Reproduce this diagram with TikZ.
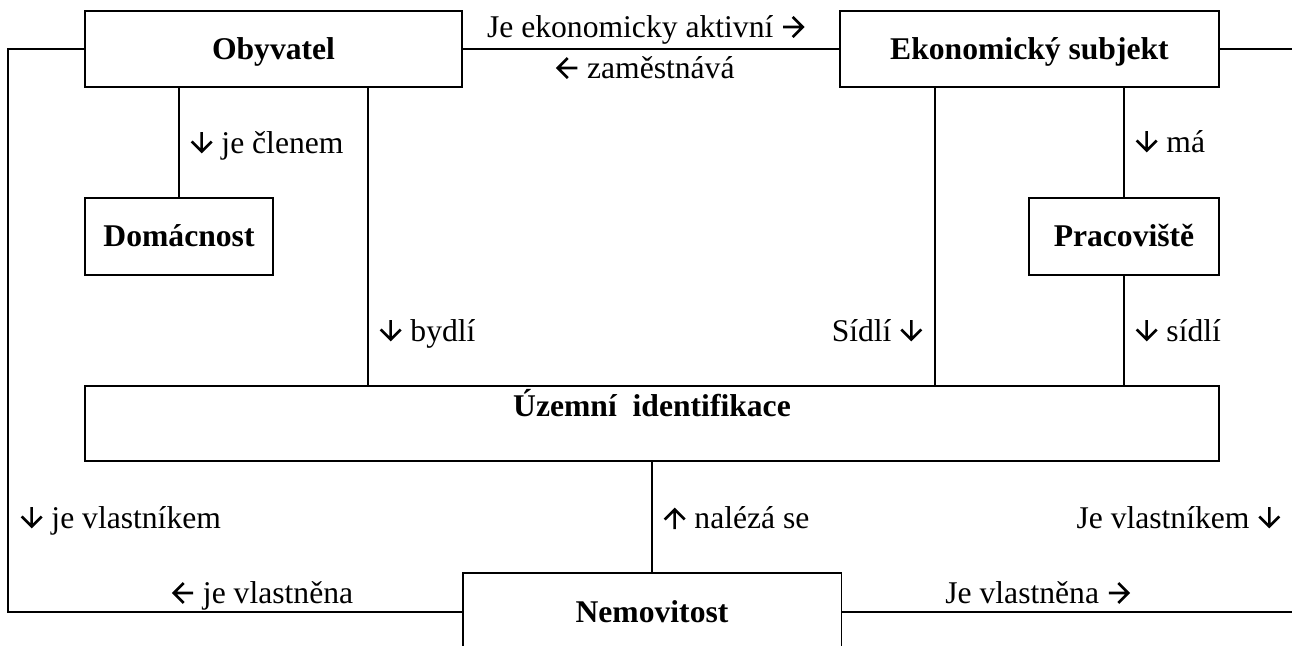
\documentclass[tikz,border=0pt]{standalone}
\usepackage{fontspec}
\setmainfont{Liberation Serif}
\newcommand{\sipka}[1]{\tikz[baseline=0pt,x=1cm,y=1cm,line width=1.5pt]
  \draw[rotate around={#1:(0,0.2)}] (0,0.42) -- (0,0.03)
    (-0.2,0.23) -- (0,0.03) -- (0.2,0.23);}
\newcommand{\dolu}{\sipka{0}\hspace{0.17cm}}
\newcommand{\nahoru}{\sipka{180}\hspace{0.17cm}}
\newcommand{\vlevo}{\sipka{-90}\hspace{0.17cm}}
\newcommand{\vpravo}{\hspace{0.17cm}\sipka{90}}
\newcommand{\dolukonec}{\hspace{0.17cm}\sipka{0}}

\begin{document}
\begin{tikzpicture}[
  x=0.02cm, y=-0.02cm,
  font=\fontsize{18}{22}\selectfont,
  link/.style={line width=1.1pt},
  box/.style={draw,line width=1.1pt,inner sep=0pt,
    text height=0.5cm,text depth=0.1cm,font=\fontsize{18}{22}\selectfont\bfseries},
  rel/.style={inner sep=0pt}
]
  \useasboundingbox (0,0) rectangle (1292,646);
  \clip (0,0) rectangle (1292,646);

  \node[box,minimum width=7.54cm,minimum height=1.52cm] (obyv) at (273.5,49) {Obyvatel};
  \node[box,minimum width=7.58cm,minimum height=1.52cm] (ekon) at (1029.5,49) {Ekonomický subjekt};
  \node[box,minimum width=3.76cm,minimum height=1.54cm] (dom) at (179,236.5) {Domácnost};
  \node[box,minimum width=3.8cm,minimum height=1.54cm] (prac) at (1124,236.5) {Pracoviště};
  \node[box,minimum width=22.68cm,minimum height=1.5cm,text depth=0.8cm] (uzemi)
    at (652,423.5) {Územní\ \ identifikace};
  \node[box,minimum width=7.58cm,minimum height=1.56cm] (nem) at (652,612) {Nemovitost};

  \coordinate (bydliste) at (368,0);
  \coordinate (sidlo) at (935,0);
  \coordinate (roh) at (8,612);
  \coordinate (okraj) at (1292,0);

  \draw[link] (obyv) -- (ekon);
  \draw[link] (dom.north) -- (dom.north |- obyv.south);
  \draw[link] (obyv.south -| bydliste) -- (uzemi.north -| bydliste);
  \draw[link] (ekon.south -| sidlo) -- (uzemi.north -| sidlo);
  \draw[link] (prac.north) -- (prac.north |- ekon.south);
  \draw[link] (prac.south) -- (prac.south |- uzemi.north);
  \draw[link] (nem.north) -- (nem.north |- uzemi.south);
  \draw[link] (obyv.west) -| (roh) -- (nem.west);
  \draw[link] (ekon.east) -- (ekon.east -| okraj);
  \draw[link] (nem.east) -- (nem.east -| okraj);

  \node[rel,anchor=base] (aktivni) at (645.5,37) {Je ekonomicky aktivní\vpravo};
  \node[rel,anchor=base] (zamestnava) at (645.5,78) {\vlevo zaměstnává};
  \node[rel,anchor=base west] (clenem) at (190,153) {\dolu je členem};
  \node[rel,anchor=base west] (ma) at (1135,152) {\dolu má};
  \node[rel,anchor=base west] (bydli) at (379,341) {\dolu bydlí};
  \node[rel,anchor=base east] (sidliE) at (923,341) {Sídlí\dolukonec};
  \node[rel,anchor=base west] (sidliP) at (1135,341) {\dolu sídlí};
  \node[rel,anchor=base west] (vlastnikO) at (20,528) {\dolu je vlastníkem};
  \node[rel,anchor=base west] (nalezase) at (663,528) {\nahoru nalézá se};
  \node[rel,anchor=base east] (vlastnikE) at (1281,528) {Je vlastníkem\dolukonec};
  \node[rel,anchor=base west] (vlastnenaO) at (172,603) {\vlevo je vlastněna};
  \node[rel,anchor=base west] (vlastnenaE) at (945,603) {Je vlastněna\vpravo};
\end{tikzpicture}
\end{document}
